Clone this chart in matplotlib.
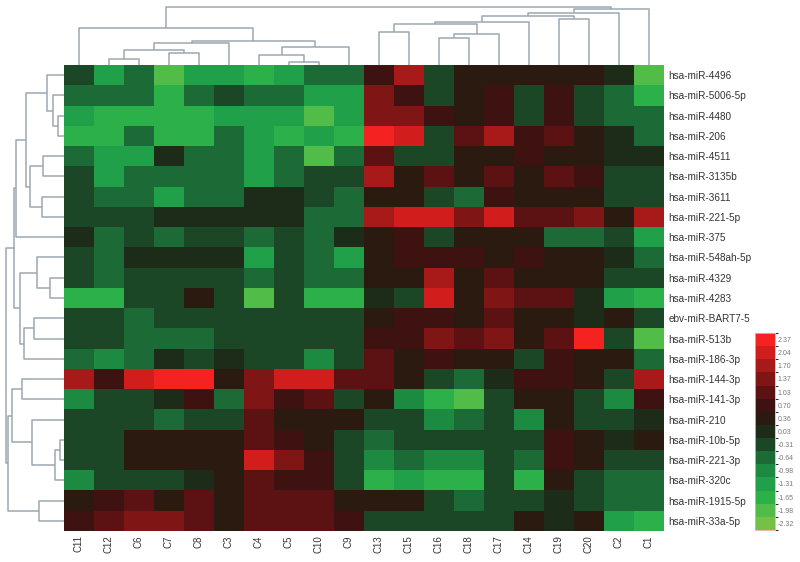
import numpy as np
import matplotlib
matplotlib.use('Agg')
import matplotlib.pyplot as plt
from matplotlib.colors import ListedColormap, BoundaryNorm

plt.rcParams['font.family'] = ['Liberation Sans', 'DejaVu Sans']

# Samples (columns) and miRNAs (rows), in clustered order
samples = ['C11', 'C12', 'C6', 'C7', 'C8', 'C3', 'C4', 'C5', 'C10', 'C9',
           'C13', 'C15', 'C16', 'C18', 'C17', 'C14', 'C19', 'C20', 'C2', 'C1']
mirnas = ['hsa-miR-4496', 'hsa-miR-5006-5p', 'hsa-miR-4480', 'hsa-miR-206',
          'hsa-miR-4511', 'hsa-miR-3135b', 'hsa-miR-3611', 'hsa-miR-221-5p',
          'hsa-miR-375', 'hsa-miR-548ah-5p', 'hsa-miR-4329', 'hsa-miR-4283',
          'ebv-miR-BART7-5', 'hsa-miR-513b', 'hsa-miR-186-3p', 'hsa-miR-144-3p',
          'hsa-miR-141-3p', 'hsa-miR-210', 'hsa-miR-10b-5p', 'hsa-miR-221-3p',
          'hsa-miR-320c', 'hsa-miR-1915-5p', 'hsa-miR-33a-5p']
highlighted = ['hsa-miR-141-3p', 'hsa-miR-1915-5p']

# Expression values (z-scores), one list per miRNA
values = [
    [-0.3, -1.2, -0.7, -2.1, -1.2, -1.2, -1.6, -1.2, -0.8, -0.8, 0.6, 1.6, -0.2, 0.4, 0.5, 0.5, 0.5, 0.5, -0.1, -2.1],
    [-0.8, -0.8, -0.8, -1.6, -0.8, -0.3, -0.8, -0.8, -1.2, -1.2, 1.5, 0.6, -0.2, 0.3, 0.8, -0.3, 0.8, -0.2, -0.8, -1.6],
    [-1.2, -1.6, -1.6, -1.6, -1.6, -1.2, -1.2, -1.2, -1.9, -1.2, 1.5, 1.5, 0.7, 0.4, 0.7, -0.3, 0.7, -0.2, -0.5, -0.8],
    [-1.6, -1.6, -0.8, -1.6, -1.6, -0.8, -1.3, -1.6, -1.2, -1.6, 2.3, 1.9, -0.2, 1.0, 1.6, 0.7, 1.2, 0.3, -0.1, -0.8],
    [-0.8, -1.2, -1.2, -0.1, -0.8, -0.8, -1.2, -0.8, -1.9, -0.8, 1.0, -0.4, -0.2, 0.4, 0.4, 0.6, 0.2, 0.5, -0.1, -0.1],
    [-0.3, -1.2, -0.8, -0.8, -0.8, -0.8, -1.2, -0.8, -0.3, -0.3, 1.7, 0.2, 1.0, 0.2, 0.9, 0.3, 1.1, 0.6, -0.2, -0.3],
    [-0.3, -0.6, -0.6, -1.2, -0.7, -0.7, -0.05, -0.05, -0.2, -0.6, 0.3, 0.3, -0.3, -0.5, 0.8, 0.3, 0.3, 0.3, -0.4, -0.4],
    [-0.3, -0.3, -0.3, -0.1, -0.1, -0.1, 0.1, -0.1, -0.6, -0.6, 1.7, 2.2, 2.2, 1.4, 1.9, 1.0, 1.0, 1.4, 0.3, 1.7],
    [-0.1, -0.6, -0.2, -0.7, -0.2, -0.2, -0.7, -0.3, -0.6, -0.1, 0.3, 0.6, -0.2, 0.3, 0.4, 0.3, -0.5, -0.5, -0.4, -1.2],
    [-0.3, -0.6, -0.1, 0.1, 0.1, 0.1, -1.2, -0.2, -0.6, -1.2, 0.3, 0.6, 0.7, 0.7, 0.2, 0.6, 0.3, 0.3, -0.1, -0.8],
    [-0.3, -0.6, -0.2, -0.3, -0.3, -0.2, -0.7, -0.2, -0.6, -0.6, 0.2, 0.2, 1.6, 0.2, 0.9, 0.2, 0.3, 0.3, -0.3, -0.3],
    [-1.6, -1.6, -0.3, -0.3, 0.3, -0.3, -1.9, -0.3, -1.6, -1.6, 0.0, -0.4, 2.2, 0.2, 1.3, 1.1, 1.1, -0.1, -1.2, -1.5],
    [-0.3, -0.4, -0.8, -0.4, -0.3, -0.4, -0.4, -0.3, -0.4, -0.2, 0.3, 0.8, 0.6, 0.2, 0.9, 0.3, 0.5, 0.0, 0.2, -0.3],
    [-0.3, -0.4, -0.8, -0.8, -0.8, -0.4, -0.4, -0.3, -0.4, -0.4, 0.6, 0.8, 1.3, 1.0, 1.3, 0.5, 1.2, 2.3, -0.3, -1.9],
    [-0.5, -0.9, -0.5, 0.0, -0.3, 0.0, -0.3, -0.3, -0.9, -0.3, 1.0, 0.2, 0.6, 0.3, 0.3, -0.2, 0.6, 0.3, 0.3, -0.7],
    [1.8, 0.7, 1.9, 2.3, 2.3, 0.3, 1.4, 2.0, 2.0, 1.1, 1.0, 0.3, -0.4, -0.8, -0.1, 0.7, 0.7, 0.3, -0.4, 1.7],
    [-1.0, -0.3, -0.3, 0.1, 0.6, -0.5, 1.3, 0.6, 1.1, -0.3, 0.4, -1.1, -1.6, -1.9, -0.2, 0.4, 0.3, -0.3, -1.1, 0.6],
    [-0.3, -0.3, -0.3, -0.5, -0.3, -0.3, 1.0, 0.3, 0.3, 0.2, -0.3, -0.3, -1.1, -0.7, -0.2, -0.9, 0.4, -0.3, -0.3, -0.1],
    [-0.3, -0.3, 0.2, 0.2, 0.3, 0.2, 1.0, 0.6, 0.3, -0.3, -0.8, -0.4, -0.4, -0.3, -0.2, -0.4, 0.7, 0.3, -0.1, 0.2],
    [-0.4, -0.4, 0.2, 0.2, 0.2, 0.3, 1.9, 1.5, 0.6, -0.3, -1.1, -0.7, -1.1, -1.1, -0.2, -0.7, 0.6, 0.2, -0.2, -0.2],
    [-1.0, -0.4, -0.3, -0.3, 0.1, 0.2, 1.0, 0.6, 0.6, -0.4, -1.6, -1.2, -1.8, -1.8, -0.2, -1.5, 0.3, -0.2, -0.6, -0.6],
    [0.3, 0.7, 1.2, 0.2, 1.1, 0.2, 1.0, 1.0, 1.0, 0.2, 0.3, 0.3, -0.4, -0.8, -0.2, -0.2, -0.1, -0.2, -0.7, -0.7],
    [0.6, 1.1, 1.3, 1.3, 1.1, 0.3, 1.0, 1.0, 1.0, 0.6, -0.3, -0.2, -0.2, -0.2, -0.2, 0.2, 0.0, 0.2, -1.2, -1.6],
]

# Colour key levels (low -> high) and their colours
levels = [-2.32, -1.98, -1.65, -1.31, -0.98, -0.64, -0.31, 0.03, 0.36, 0.70, 1.03, 1.37, 1.70, 2.04, 2.37]
level_colors = ['#74c145', '#52bc48', '#2cb04a', '#20a048', '#1d8a42', '#1c6a35', '#1c4726',
                '#1d2c18', '#2a1a10', '#3e1210', '#5c1212', '#801515', '#a81919', '#d21d1d', '#f52222']

# Column dendrogram merges: node a, node b, height (new nodes numbered from 20)
col_link_a = [1, 3, 20, 22, 7, 6, 25, 23, 0, 10, 12, 30, 29, 32, 16, 33, 35, 36, 28]
col_link_b = [2, 4, 21, 5, 8, 24, 9, 26, 27, 11, 13, 14, 31, 15, 17, 34, 18, 19, 37]
col_link_h = [6, 12, 15, 22, 3, 10, 18, 24, 37, 33, 27, 31, 41, 43, 46, 49, 52, 56, 58]

# Row dendrogram merges (new nodes numbered from 23)
row_link_a = [2, 1, 0, 4, 6, 26, 25, 29, 10, 9, 12, 33, 32, 30, 15, 18, 38, 17, 37, 21, 41, 36]
row_link_b = [3, 23, 24, 5, 7, 27, 28, 8, 11, 31, 13, 14, 34, 35, 16, 19, 20, 39, 40, 22, 42, 43]
row_link_h = [5.7, 10.7, 17.3, 20.7, 22.3, 34, 38, 48, 14, 27.3, 29.7, 40, 44, 50, 42.3, 4, 9, 32.3, 52.3, 24.7, 55.7, 58]


def draw_dendrogram(ax, n, link_a, link_b, link_h, orient):
    pos = list(np.arange(n) + 0.5)
    hgt = [0.0] * n
    for a, b, h in zip(link_a, link_b, link_h):
        xs = [pos[a], pos[a], pos[b], pos[b]]
        ys = [hgt[a], h, h, hgt[b]]
        if orient == 'top':
            ax.plot(xs, ys, color='#9ea8b2', lw=1.1, solid_capstyle='butt')
        else:
            ax.plot(ys, xs, color='#9ea8b2', lw=1.1, solid_capstyle='butt')
        pos.append((pos[a] + pos[b]) / 2)
        hgt.append(h)


W, H = 800, 562
fig = plt.figure(figsize=(W / 100, H / 100), dpi=100)

# pixel geometry of the heatmap
hm_l, hm_r, hm_t, hm_b = 64, 664, 65, 531
hm_box = [hm_l / W, 1 - hm_b / H, (hm_r - hm_l) / W, (hm_b - hm_t) / H]

data = np.array(values)
lv = np.array(levels)
step = lv[1] - lv[0]
bounds = np.concatenate([[lv[0] - step / 2], (lv[:-1] + lv[1:]) / 2, [lv[-1] + step / 2]])
cmap = ListedColormap(level_colors)
norm = BoundaryNorm(bounds, cmap.N)

ax = fig.add_axes(hm_box)
mesh = ax.pcolormesh(data, cmap=cmap, norm=norm)
ax.set_xlim(0, len(samples))
ax.set_ylim(len(mirnas), 0)
ax.set_xticks(np.arange(len(samples)) + 0.5)
ax.set_xticklabels(samples, rotation=90, fontsize=7, color='#333333')
ax.set_yticks(np.arange(len(mirnas)) + 0.5)
ax.set_yticklabels(mirnas, fontsize=7.2, color='#333333')
for lab in ax.get_yticklabels():
    if lab.get_text() in highlighted:
        lab.set_color('#e83a34')
ax.yaxis.tick_right()
ax.tick_params(length=0, pad=3)
for s in ax.spines.values():
    s.set_visible(False)

# column dendrogram
axc = fig.add_axes([hm_l / W, 1 - hm_t / H, (hm_r - hm_l) / W, hm_t / H])
draw_dendrogram(axc, len(samples), col_link_a, col_link_b, col_link_h, 'top')
axc.set_xlim(0, len(samples))
axc.set_ylim(0, hm_t)
axc.axis('off')

# row dendrogram
axr = fig.add_axes([0, 1 - hm_b / H, hm_l / W, (hm_b - hm_t) / H])
draw_dendrogram(axr, len(mirnas), row_link_a, row_link_b, row_link_h, 'left')
axr.set_xlim(hm_l, 0)
axr.set_ylim(len(mirnas), 0)
axr.axis('off')

# colour key
cax = fig.add_axes([755 / W, 1 - 530 / H, 20 / W, 197 / H])
cb = fig.colorbar(mesh, cax=cax, ticks=levels)
cb.set_ticklabels(['%.2f' % v for v in levels])
cb.ax.tick_params(length=0, labelsize=5, labelcolor='#777777', pad=2)
cb.outline.set_edgecolor('#e6b0b0')
cb.outline.set_linewidth(0.6)

fig.savefig('out.png', dpi=100)
